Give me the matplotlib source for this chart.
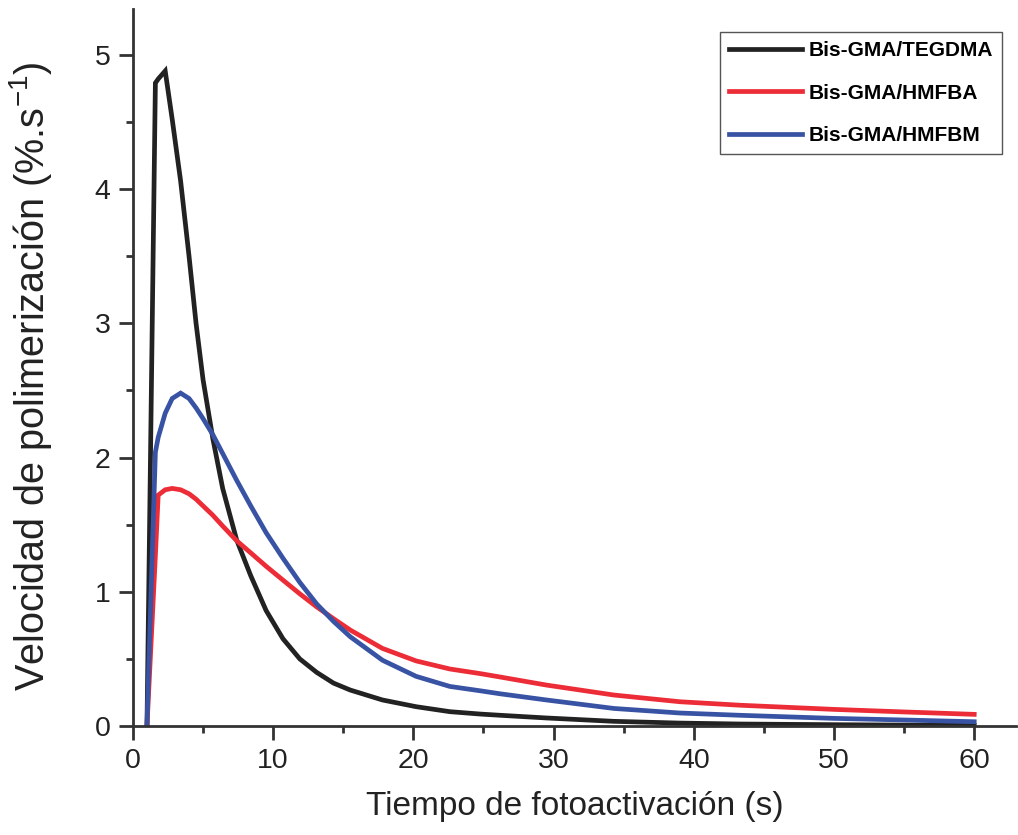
"""
Polymerization rate vs photoactivation time for three resin blends.
"""

import matplotlib
matplotlib.use("Agg")
import matplotlib.pyplot as plt
from matplotlib.ticker import MultipleLocator

plt.rcParams["font.family"] = ["Liberation Sans", "DejaVu Sans"]
plt.rcParams["mathtext.fontset"] = "custom"
plt.rcParams["mathtext.rm"] = "Liberation Sans"

# time (s)
tiempo = [1.0, 1.6, 1.8, 2.3, 2.8, 3.4, 4.0, 4.5, 5.0, 5.7, 6.4, 7.4, 8.4,
          9.5, 10.7, 11.9, 13.1, 14.3, 15.5, 17.8, 20.2, 22.6, 24.8, 26.2,
          29.5, 34.3, 39.0, 43.3, 50.0, 55.0, 60.0]

# polymerization rate (%.s^-1)
tegdma = [0.0, 4.79, 4.82, 4.88, 4.52, 4.06, 3.50, 3.00, 2.58, 2.14, 1.77,
          1.385, 1.12, 0.86, 0.65, 0.50, 0.40, 0.32, 0.268, 0.194, 0.144,
          0.107, 0.089, 0.080, 0.060, 0.035, 0.022, 0.015, 0.010, 0.007, 0.005]
hmfba = [0.0, 1.27, 1.72, 1.76, 1.77, 1.76, 1.73, 1.69, 1.64, 1.57, 1.49,
         1.38, 1.29, 1.19, 1.087, 0.985, 0.888, 0.80, 0.715, 0.578, 0.485,
         0.425, 0.39, 0.365, 0.305, 0.231, 0.181, 0.155, 0.124, 0.105, 0.087]
hmfbm = [0.0, 2.04, 2.15, 2.33, 2.44, 2.48, 2.44, 2.37, 2.29, 2.17, 2.03,
         1.83, 1.64, 1.44, 1.25, 1.07, 0.91, 0.78, 0.665, 0.49, 0.37,
         0.295, 0.262, 0.24, 0.194, 0.131, 0.097, 0.080, 0.057, 0.045, 0.032]

series = [
    ("Bis-GMA/TEGDMA", tegdma, "#222222"),
    ("Bis-GMA/HMFBA", hmfba, "#ec2c37"),
    ("Bis-GMA/HMFBM", hmfbm, "#3953a4"),
]

fig = plt.figure(figsize=(10.18, 8.35), dpi=100)
ax = fig.add_axes([0.1306, 0.1305, 0.8677, 0.8585])

for label, vals, color in series:
    ax.plot(tiempo, vals, color=color, linewidth=3.4, label=label,
            solid_joinstyle="miter")

ax.set_xlim(0, 63)
ax.set_ylim(0, 5.34)
ax.xaxis.set_major_locator(MultipleLocator(10))
ax.xaxis.set_minor_locator(MultipleLocator(5))
ax.yaxis.set_major_locator(MultipleLocator(1))
ax.yaxis.set_minor_locator(MultipleLocator(0.5))

ax.spines[["top", "right"]].set_visible(False)
for s in ("left", "bottom"):
    ax.spines[s].set_linewidth(2.0)
    ax.spines[s].set_color("#333333")

ax.tick_params(which="major", direction="out", length=10, width=2.0,
               color="#333333", labelsize=20.5, labelcolor="#222222", pad=6)
ax.tick_params(which="minor", direction="out", length=5, width=2.0,
               color="#333333")

ax.set_xlabel("Tiempo de fotoactivación (s)", fontsize=24, color="#222222",
              labelpad=12)
ax.set_ylabel("Velocidad de polimerización (%.s$^{-1}$)", fontsize=28.5,
              color="#222222")
ax.yaxis.set_label_coords(-0.089, 0.488)

leg = ax.legend(loc="upper right", bbox_to_anchor=(0.9843, 0.9617),
                bbox_transform=fig.transFigure, fancybox=False, framealpha=1,
                edgecolor="#555555", prop={"weight": "bold", "size": 15},
                handlelength=3.5, handletextpad=0.3, labelspacing=1.12,
                borderpad=0.45, borderaxespad=0)
leg.get_frame().set_linewidth(1.0)

fig.savefig("out.png", dpi=100)
